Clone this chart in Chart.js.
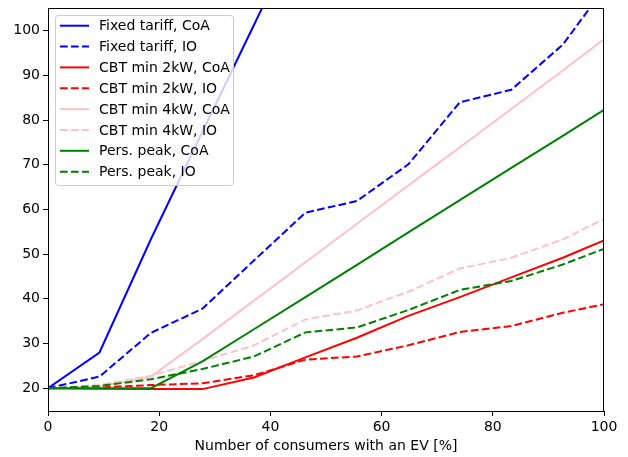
<!DOCTYPE html>
<html>
<head>
<meta charset="utf-8">
<script src="https://cdn.jsdelivr.net/npm/chart.js@4.4.1/dist/chart.umd.min.js"></script>
<style>
  html, body { margin: 0; padding: 0; background: #fff; }
  #wrap { width: 628px; height: 457px; }
</style>
</head>
<body>
<div id="wrap"><canvas id="evChart" width="628" height="457"></canvas></div>
<script>
// share of consumers with an EV, in %
const evShare = [0, 9.26, 18.52, 27.78, 37.04, 46.30, 55.56, 64.81, 74.07, 83.33, 92.59, 100];

// values per series
const fixedCoA = [20, 28, 53.4, 77.4, 101.3, 125.3, null, null, null, null, null, null];
const fixedIO = [20, 22.6, 32.4, 37.8, 48.6, 59.3, 61.9, 70.1, 84.0, 86.8, 96.9, 109.4];
const cbt2CoA = [20, 19.9, 19.8, 19.8, 22.4, 26.9, 31.3, 36.2, 40.4, 44.8, 49.2, 53.1];
const cbt2IO = [20, 20.2, 20.7, 21.1, 22.9, 26.4, 27.1, 29.6, 32.6, 33.9, 36.9, 38.8];
const cbt4CoA = [20, 20.4, 22.6, 31.0, 39.6, 48.2, 56.8, 65.4, 73.9, 82.5, 91.1, 98.1];
const cbt4IO = [20, 20.7, 22.8, 26.1, 29.6, 35.4, 37.4, 41.6, 46.8, 49.2, 53.3, 57.9];
const peakCoA = [20, 20, 20, 26.0, 33.2, 40.4, 47.6, 54.9, 62.1, 69.3, 76.5, 82.3];
const peakIO = [20, 20.5, 22.0, 24.3, 27.1, 32.5, 33.6, 37.5, 42.0, 44.0, 47.7, 51.2];

const yTicks = [20, 30, 40, 50, 60, 70, 80, 90, 100];
const xTicks = [0, 20, 40, 60, 80, 100];

const FONT = "'DejaVu Sans', sans-serif";
const DASH = [7.7, 3.3];

function pts(values) {
    return evShare.map((x, i) => ({ x: x, y: values[i] }));
}

const series = [
    { label: 'Fixed tariff, CoA', values: fixedCoA, color: '#0000ff', dashed: false },
    { label: 'Fixed tariff, IO', values: fixedIO, color: '#0000ff', dashed: true },
    { label: 'CBT min 2kW, CoA', values: cbt2CoA, color: '#ff0000', dashed: false },
    { label: 'CBT min 2kW, IO', values: cbt2IO, color: '#ff0000', dashed: true },
    { label: 'CBT min 4kW, CoA', values: cbt4CoA, color: '#ffc0cb', dashed: false },
    { label: 'CBT min 4kW, IO', values: cbt4IO, color: '#ffc0cb', dashed: true },
    { label: 'Pers. peak, CoA', values: peakCoA, color: '#008000', dashed: false },
    { label: 'Pers. peak, IO', values: peakIO, color: '#008000', dashed: true }
];

// later series on top, like the original
const datasets = series.map((s, i) => ({
    label: s.label,
    data: pts(s.values),
    borderColor: s.color,
    backgroundColor: s.color,
    borderWidth: 2,
    borderDash: s.dashed ? DASH : [],
    pointRadius: 0,
    tension: 0,
    spanGaps: false,
    order: series.length - i
}));

// frame round the plot and the legend box in the upper left corner
const framePlugin = {
    id: 'frameAndLegend',
    afterDraw(chart) {
        const ctx = chart.ctx;
        const a = chart.chartArea;
        ctx.save();
        ctx.strokeStyle = '#000';
        ctx.lineWidth = 1;
        ctx.strokeRect(a.left + 0.5, a.top + 0.5, a.right - a.left - 1, a.bottom - a.top);

        // legend
        const bx = a.left + 7, by = a.top + 7, bw = 178, bh = 170;
        ctx.fillStyle = 'rgba(255,255,255,0.8)';
        ctx.strokeStyle = '#cccccc';
        ctx.lineWidth = 1;
        ctx.beginPath();
        ctx.roundRect(bx + 0.5, by + 0.5, bw, bh, 3);
        ctx.fill();
        ctx.stroke();

        ctx.font = '14px ' + FONT;
        ctx.textBaseline = 'middle';
        ctx.textAlign = 'left';
        series.forEach((s, i) => {
            const y = by + 10.7 + i * 20.85;
            ctx.strokeStyle = s.color;
            ctx.lineWidth = 2;
            ctx.setLineDash(s.dashed ? DASH : []);
            ctx.beginPath();
            ctx.moveTo(bx + 5, y);
            ctx.lineTo(bx + 34, y);
            ctx.stroke();
            ctx.setLineDash([]);
            ctx.fillStyle = '#000';
            ctx.fillText(s.label, bx + 44, y + 1);
        });
        ctx.restore();
    }
};

const ctx = document.getElementById('evChart').getContext('2d');
window.evChart = new Chart(ctx, {
    type: 'line',
    data: { datasets: datasets },
    options: {
        responsive: false,
        animation: false,
        maintainAspectRatio: false,
        layout: { padding: { top: 8, right: 24, left: 0, bottom: 0 } },
        plugins: {
            legend: { display: false },
            tooltip: { enabled: false }
        },
        scales: {
            x: {
                type: 'linear',
                min: 0,
                max: 100,
                afterBuildTicks: axis => { axis.ticks = xTicks.map(v => ({ value: v })); },
                afterFit: axis => {
                    axis.height = 46;
                    axis.paddingLeft = 0;
                    axis.paddingRight = 0;
                },
                grid: { display: true, drawOnChartArea: false, drawTicks: true, tickLength: 5, color: '#000' },
                border: { display: true, color: '#000', width: 1 },
                ticks: { color: '#000', padding: 3, font: { family: FONT, size: 14 }, maxRotation: 0 },
                title: {
                    display: true,
                    text: 'Number of consumers with an EV [%]',
                    color: '#000',
                    font: { family: FONT, size: 14 },
                    padding: { top: 2, bottom: 2 }
                }
            },
            y: {
                type: 'linear',
                min: 14.9,
                max: 105.1,
                afterBuildTicks: axis => { axis.ticks = yTicks.map(v => ({ value: v })); },
                afterFit: axis => {
                    axis.width = 48;
                    axis.paddingTop = 0;
                    axis.paddingBottom = 0;
                },
                grid: { display: true, drawOnChartArea: false, drawTicks: true, tickLength: 5, color: '#000' },
                border: { display: true, color: '#000', width: 1 },
                ticks: { color: '#000', padding: 3, font: { family: FONT, size: 14 } }
            }
        }
    },
    plugins: [framePlugin]
});
</script>
</body>
</html>
